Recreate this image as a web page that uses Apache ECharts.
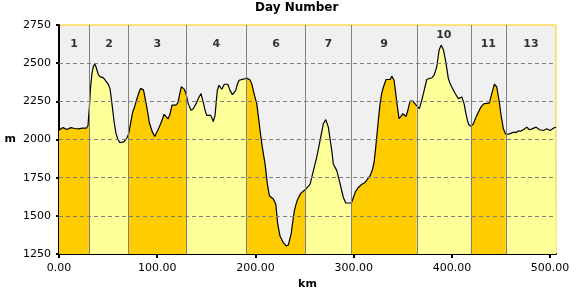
<!DOCTYPE html>
<html>
<head>
<meta charset="utf-8">
<script src="https://cdn.jsdelivr.net/npm/echarts@6/dist/echarts.min.js"></script>
<style>
  html, body { margin: 0; padding: 0; background: #fff; }
  #main { width: 580px; height: 300px; }
</style>
</head>
<body>
<div id="main"></div>
<script>
// day names and where each day starts/ends (km)
const dayNames = ['1', '2', '3', '4', '6', '7', '9', '10', '11', '13'];
const dayBounds = [0, 30.9, 71, 129.3, 191.1, 250.8, 297.7, 364.3, 419.3, 454.9, 506];
const xTicks = [0, 100, 200, 300, 400, 500];
const yGrid = [1500, 1750, 2000, 2250, 2500];
const dayColors = ['#FFCC00', '#FFFF99'];

// elevation profile [km, m]
const profile = [
  [0, 2060], [2, 2070], [4, 2078], [6, 2072], [8, 2066], [10, 2068], [12, 2078], [14, 2080],
  [16, 2072], [18, 2065], [20, 2070], [22, 2076], [24, 2074], [26, 2066], [28, 2075],
  [29.5, 2090], [30.2, 2150], [30.9, 2210],
  [32, 2330], [33.5, 2430], [35, 2480], [36.5, 2495], [38, 2470], [40, 2425], [42, 2410],
  [45, 2405], [48, 2380], [50, 2365], [52, 2330], [54, 2230], [56, 2120], [58, 2040],
  [60, 2000], [62, 1980], [64, 1976], [66, 1985], [68, 2000], [69.5, 2015], [71, 2040],
  [73, 2110], [75, 2180], [77, 2215], [79, 2260], [81, 2300], [83, 2335], [84.5, 2345],
  [86, 2325], [88, 2260], [90, 2190], [92, 2110], [95, 2050], [97.5, 2020], [99.5, 2030],
  [102, 2080], [104.5, 2120], [107, 2165], [109, 2150], [111, 2135], [113, 2165], [115, 2225],
  [117, 2235], [119, 2225], [121, 2240], [123, 2300], [124.5, 2345], [126, 2350], [127.5, 2330],
  [129.3, 2300],
  [131.5, 2235], [134.4, 2191], [136.5, 2200], [138.5, 2213], [140, 2240], [142, 2270],
  [144.6, 2301], [145.5, 2294], [147, 2240], [148.7, 2191], [150.4, 2158], [154.5, 2158],
  [157.1, 2118], [158.9, 2158], [160, 2240], [161.2, 2322], [162.9, 2355], [165.7, 2329],
  [168.3, 2362], [171.8, 2362], [174.1, 2322], [176.5, 2294], [179.9, 2322], [181.5, 2360],
  [183.3, 2388], [187.7, 2395], [191.1, 2402],
  [192.8, 2406], [194.5, 2390], [196.2, 2366], [198.6, 2301], [201.3, 2235], [203, 2150],
  [204.7, 2059], [207, 1949], [209.8, 1840], [212.1, 1709], [214.2, 1632], [218.2, 1610],
  [220.7, 1577], [222.7, 1445], [225, 1368], [228.4, 1324], [231.2, 1303], [233.5, 1309],
  [236.3, 1380], [238, 1460], [239.6, 1533], [241.5, 1580], [243.1, 1610], [246.1, 1647],
  [250.8, 1672],
  [255.6, 1706], [259, 1796], [262.4, 1884], [265.8, 1993], [269.1, 2103], [271.6, 2130],
  [274.2, 2081], [277.7, 1928], [279.3, 1840], [282.8, 1796], [286.2, 1709], [289.5, 1620],
  [292, 1584], [297.7, 1584],
  [299.7, 1620], [302, 1660], [304.8, 1686], [308, 1705], [311.6, 1719], [316.7, 1763],
  [319, 1800], [320.8, 1851], [322.5, 1950], [324.1, 2059], [325.5, 2150], [326.9, 2235],
  [328.5, 2300], [330.3, 2344], [333, 2393], [337.1, 2393], [338.8, 2415], [341.1, 2388],
  [342.5, 2320], [343.9, 2245], [346.2, 2136], [348, 2150], [350, 2169], [353.4, 2151],
  [355.5, 2200], [357.4, 2252], [360.2, 2252], [364.3, 2220],
  [366.9, 2202], [369, 2250], [371, 2301], [374.4, 2393], [377, 2400], [379.5, 2403],
  [381.9, 2421], [384.6, 2476], [387, 2586], [389, 2618], [391.3, 2590], [393.8, 2509],
  [396.4, 2399], [398, 2370], [399.9, 2344], [403.3, 2301], [406.6, 2268], [410.1, 2278],
  [412.4, 2235], [414, 2180], [415.8, 2125], [417, 2100], [419.3, 2086],
  [421.9, 2103], [423.5, 2130], [425.4, 2158], [428.7, 2202], [430.5, 2220], [432.8, 2235],
  [436, 2236], [438.2, 2240], [440.6, 2301], [443.3, 2362], [445.7, 2344], [448, 2256],
  [450.1, 2158], [452.4, 2070], [454.9, 2033],
  [457.5, 2035], [460, 2040], [462.6, 2048], [465, 2045], [467.7, 2055], [470, 2055],
  [472.8, 2064], [476.2, 2081], [478.9, 2064], [481, 2068], [483, 2064], [485.7, 2081],
  [487.5, 2070], [489.1, 2064], [491, 2066], [493.2, 2059], [496.6, 2070], [500, 2059],
  [502, 2062], [504.1, 2077], [506, 2080]
];

const font = 'DejaVu Sans';
const chart = echarts.init(document.getElementById('main'), null, { renderer: 'canvas' });

// one filled line per day
const segs = dayNames.map((n, i) =>
  profile.filter(p => p[0] >= dayBounds[i] && p[0] <= dayBounds[i + 1]));

const series = segs.map((seg, i) => ({
  type: 'line',
  name: 'Day ' + dayNames[i],
  data: seg,
  symbol: 'none',
  silent: true,
  z: 2,
  lineStyle: { color: '#000', width: 1.2 },
  areaStyle: { color: dayColors[i % 2], opacity: 1, origin: 'start' }
}));

// day labels + grid lines on top of the fills
series.push({
  type: 'scatter',
  symbolSize: 1,
  itemStyle: { color: 'transparent' },
  silent: true,
  z: 6,
  data: dayNames.map((n, i) => {
    const top = Math.max(...segs[i].map(p => p[1]));
    return { name: n, value: [(dayBounds[i] + dayBounds[i + 1]) / 2, top > 2550 ? 2681 : 2622] };
  }),
  label: {
    show: true, position: 'inside', formatter: '{b}',
    color: '#000', fontFamily: font, fontSize: 11, fontWeight: 'bold'
  },
  markLine: {
    silent: true,
    symbol: 'none',
    animation: false,
    label: { show: false },
    data: [
      ...dayBounds.slice(1, -1).map(b => ({ xAxis: b, lineStyle: { color: '#808080', width: 1, type: 'solid' } })),
      ...yGrid.map(v => ({ yAxis: v, lineStyle: { color: '#808080', width: 1, type: [4, 3] } }))
    ]
  }
});

const option = {
  animation: false,
  title: {
    text: 'Day Number',
    left: 255,
    top: 2,
    padding: 0,
    textStyle: { fontFamily: font, fontSize: 12, fontWeight: 'bold', color: '#000' }
  },
  grid: {
    left: 59, right: 24, top: 25, bottom: 46,
    show: true,
    backgroundColor: '#F0F0F0',
    borderColor: '#FFCC00',
    borderWidth: 1,
    outerBoundsMode: 'none'
  },
  xAxis: {
    type: 'value',
    min: 0, max: 506, interval: 100,
    name: 'km', nameLocation: 'middle', nameGap: 25,
    nameTextStyle: { fontFamily: font, fontSize: 11, fontWeight: 'bold', color: '#000' },
    axisLine: { onZero: false, lineStyle: { color: '#000', width: 2 } },
    axisTick: { length: 4, customValues: xTicks, lineStyle: { color: '#000', width: 2 } },
    axisLabel: {
      customValues: xTicks, margin: 9, color: '#000', fontFamily: font, fontSize: 11,
      formatter: v => v.toFixed(2)
    },
    splitLine: { show: false }
  },
  yAxis: {
    type: 'value',
    min: 1250, max: 2750, interval: 250,
    name: 'm', nameLocation: 'middle', nameRotate: 0, nameGap: 43,
    nameTextStyle: { fontFamily: font, fontSize: 11, fontWeight: 'bold', color: '#000' },
    axisLine: { onZero: false, lineStyle: { color: '#000', width: 2 } },
    axisTick: { length: 3, lineStyle: { color: '#000', width: 2 } },
    axisLabel: { margin: 8, color: '#000', fontFamily: font, fontSize: 11, formatter: v => String(v) },
    splitLine: { show: false }
  },
  series: series
};

chart.setOption(option);
</script>
</body>
</html>
